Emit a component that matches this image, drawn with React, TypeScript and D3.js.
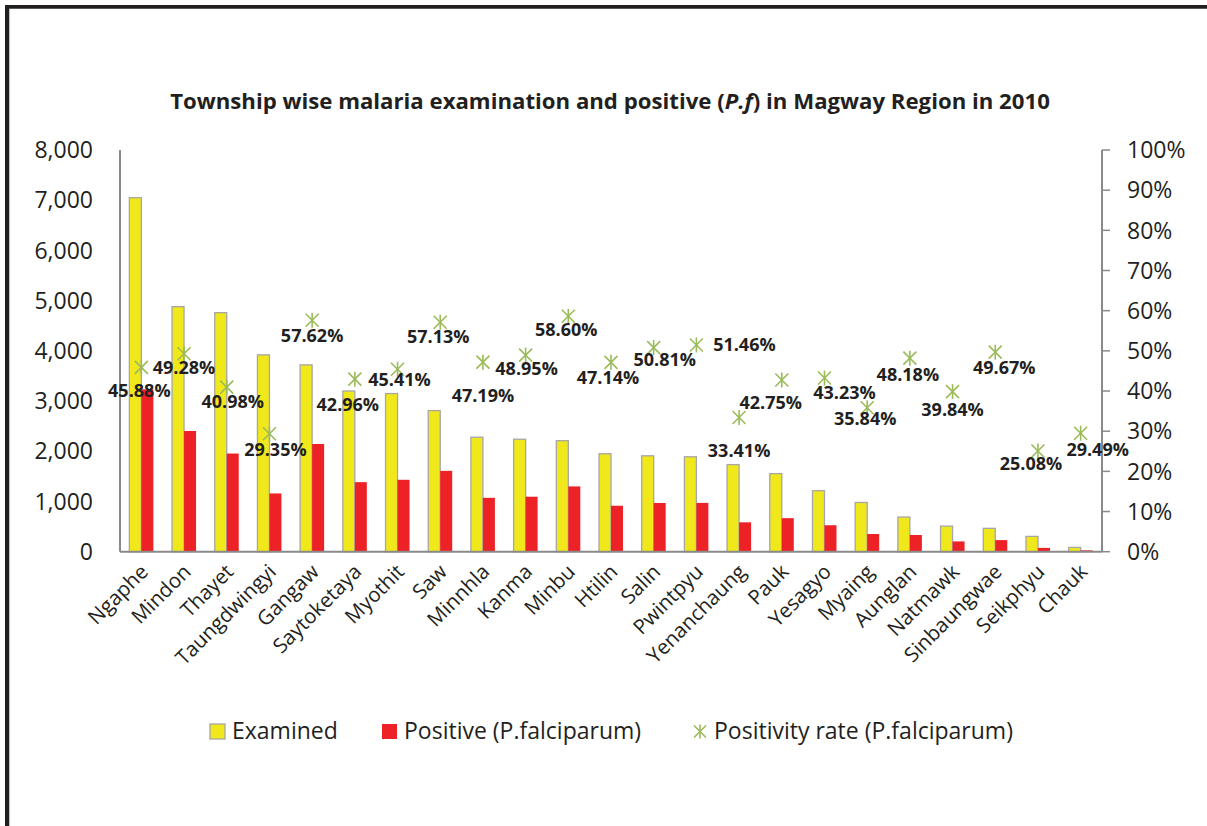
import React from "react";
import * as d3 from "d3";

const categories = [
  "Ngaphe", "Mindon", "Thayet", "Taungdwingyi", "Gangaw", "Saytoketaya", "Myothit", "Saw",
  "Minnhla", "Kanma", "Minbu", "Htilin", "Salin", "Pwintpyu", "Yenanchaung", "Pauk",
  "Yesagyo", "Myaing", "Aunglan", "Natmawk", "Sinbaungwae", "Seikphyu", "Chauk",
];
const examined = [7050, 4880, 4760, 3920, 3720, 3200, 3150, 2810, 2280, 2240, 2210, 1950, 1910, 1890, 1735, 1555, 1215, 980, 690, 510, 465, 305, 85];
const positive = [3234, 2404, 1955, 1160, 2145, 1385, 1432, 1610, 1073, 1095, 1300, 915, 970, 972, 585, 668, 527, 352, 333, 205, 231, 76, 27];
const positivityRate = [45.88, 49.28, 40.98, 29.35, 57.62, 42.96, 45.41, 57.13, 47.19, 48.95, 58.6, 47.14, 50.81, 51.46, 33.41, 42.75, 43.23, 35.84, 48.18, 39.84, 49.67, 25.08, 29.49];
const leftTicks = [0, 1000, 2000, 3000, 4000, 5000, 6000, 7000, 8000];
const rightTicks = [0, 10, 20, 30, 40, 50, 60, 70, 80, 90, 100];

// label placement nudges (layout, relative to each marker)
const labelNudges: [number, number][] = [
  [-2, 23], [0, 14], [6, 14], [6, 16], [0, 15], [-7, 25], [2, 10], [-2, 14],
  [0, 33], [1, 13], [-2, 13], [-3, 15], [11, 12], [48, 0], [0, 33], [-11, 23],
  [20, 14], [-2, 11], [-2, 16], [0, 18], [9, 15], [-7, 13], [17, 16],
];

const W = 1207, H = 826;
const left = 120, right = 1102, top = 150, bottom = 551.7;
const TEXT = "#231f20";
const YELLOW = "#f1e81c";
const RED = "#ec2227";
const GREEN = "#9bbb59";
const AXIS = "#8a8a8a";
const FONT = "'Open Sans', 'Noto Sans', sans-serif";

function Star({ x, y, s = 6.5 }: { x: number; y: number; s?: number }) {
  return (
    <g stroke={GREEN} strokeWidth={1.6} fill="none">
      <line x1={x - s} y1={y - s} x2={x + s} y2={y + s} />
      <line x1={x - s} y1={y + s} x2={x + s} y2={y - s} />
      <line x1={x} y1={y - s - 1} x2={x} y2={y + s + 1} />
    </g>
  );
}

export default function App() {
  const x = d3.scaleBand<string>().domain(categories).range([left, right]).padding(0);
  const inner = d3.scaleBand<string>().domain(["examined", "positive"]).range([0, 24]);
  const yL = d3.scaleLinear().domain([0, 8000]).range([bottom, top]);
  const yR = d3.scaleLinear().domain([0, 100]).range([bottom, top]);
  const fmt = d3.format(",");
  const bw = x.bandwidth();

  return (
    <svg width={W} height={H} style={{ position: "absolute", left: 0, top: 0, background: "#fff" }} fontFamily={FONT}>
      <rect x={0} y={0} width={W} height={H} fill="#fff" />
      {/* frame */}
      <line x1={5} y1={6.8} x2={W} y2={6.8} stroke="#231f20" strokeWidth={3.8} />
      <line x1={7} y1={5} x2={7} y2={H} stroke="#231f20" strokeWidth={4} />
      <line x1={9.6} y1={9} x2={9.6} y2={H} stroke="#bdbdbd" strokeWidth={1} />

      {/* title */}
      <text x={610} y={108.5} textAnchor="middle" fontWeight="bold" fontSize={22.2} fill={TEXT}>
        Township wise malaria examination and positive (<tspan fontStyle="italic">P.f</tspan>) in Magway Region in 2010
      </text>

      {/* bars */}
      {categories.map((c, i) => {
        const x0 = (x(c) as number) + bw / 2 - 12;
        return (
          <g key={c}>
            <rect x={x0 + (inner("examined") as number)} y={yL(examined[i])} width={inner.bandwidth()}
              height={bottom - yL(examined[i])} fill={YELLOW} stroke="#a6a6a6" strokeWidth={1.3} />
            <rect x={x0 + (inner("positive") as number)} y={yL(positive[i])} width={inner.bandwidth()}
              height={bottom - yL(positive[i])} fill={RED} />
          </g>
        );
      })}

      {/* axes */}
      <line x1={left} y1={top} x2={left} y2={bottom} stroke={AXIS} strokeWidth={2} />
      <line x1={left} y1={bottom} x2={right} y2={bottom} stroke={AXIS} strokeWidth={2} />
      <line x1={right} y1={top} x2={right} y2={bottom} stroke={AXIS} strokeWidth={2} />
      {leftTicks.map((t) => (
        <text key={t} x={93} y={yL(t) + 8.2} textAnchor="end" fontSize={23} fill={TEXT}>{fmt(t)}</text>
      ))}
      {rightTicks.map((t) => (
        <g key={t}>
          <line x1={right} x2={right + 8} y1={yR(t)} y2={yR(t)} stroke={AXIS} strokeWidth={1.5} />
          <text x={1127} y={yR(t) + 8.2} fontSize={23} fill={TEXT}>{t}%</text>
        </g>
      ))}

      {/* x labels */}
      {categories.map((c) => {
        const cx = (x(c) as number) + bw / 2;
        return (
          <text key={c} transform={`translate(${cx + 8},${573}) rotate(-45)`} textAnchor="end" fontSize={20.5} fill={TEXT}>
            {c}
          </text>
        );
      })}

      {/* positivity markers + labels */}
      {categories.map((c, i) => {
        const cx = (x(c) as number) + bw / 2;
        const cy = yR(positivityRate[i]);
        const [dx, dy] = labelNudges[i];
        return (
          <g key={c}>
            <Star x={cx} y={cy} />
            <text x={cx + dx} y={cy + dy + 6.5} textAnchor="middle" fontSize={18} fontWeight="bold" fill={TEXT}>
              {positivityRate[i].toFixed(2)}%
            </text>
          </g>
        );
      })}

      {/* legend */}
      <rect x={210} y={724} width={15} height={15} fill={YELLOW} stroke="#a6a6a6" strokeWidth={1.3} />
      <text x={232} y={739} fontSize={23} fill={TEXT}>Examined</text>
      <rect x={382} y={724} width={15} height={15} fill={RED} />
      <text x={404} y={739} fontSize={23} fill={TEXT}>Positive (P.falciparum)</text>
      <Star x={700} y={731.5} s={6} />
      <text x={714} y={739} fontSize={23} fill={TEXT}>Positivity rate (P.falciparum)</text>
    </svg>
  );
}
